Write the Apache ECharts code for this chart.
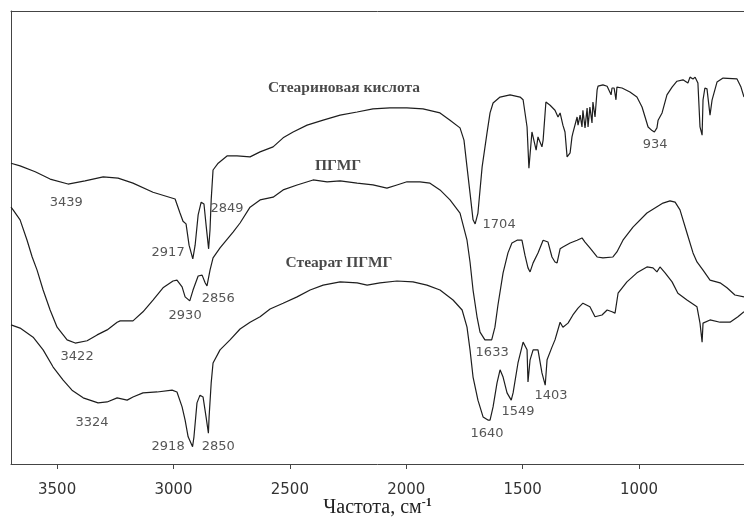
<!DOCTYPE html>
<html>
<head>
<meta charset="utf-8">
<script src="https://cdn.jsdelivr.net/npm/echarts@6/dist/echarts.min.js"></script>
<style>
  html, body { margin: 0; padding: 0; background: #fff; }
  #chart { width: 744px; height: 522px; }
</style>
</head>
<body>
<div id="chart"></div>
<script>
// wavenumber (cm-1), transmittance (arbitrary %, curves are offset)
const acidPoints = [
  [3698,66.4],[3659,65.8],[3594,64.5],[3530,62.9],[3453,61.8],[3380,62.5],[3302,63.4],[3238,63.1],
  [3174,62.0],[3088,60.0],[2993,58.5],[2972,55.4],[2959,53.6],[2946,53.0],[2933,48.3],[2917,45.3],
  [2907,48.3],[2894,55.0],[2881,57.8],[2869,57.4],[2860,52.8],[2849,47.5],[2843,51.7],[2838,58.3],
  [2830,64.9],[2808,66.4],[2770,68.0],[2727,68.0],[2671,67.8],[2628,68.9],[2572,70.0],[2529,72.0],
  [2486,73.3],[2426,74.8],[2357,75.9],[2284,77.0],[2211,77.7],[2143,78.4],[2070,78.6],[1997,78.6],
  [1928,78.4],[1855,77.5],[1812,75.9],[1769,74.2],[1752,71.5],[1739,65.6],[1726,59.8],[1713,53.9],
  [1704,53.0],[1692,55.4],[1674,65.6],[1653,73.1],[1640,77.5],[1627,79.7],[1597,81.0],[1554,81.5],
  [1511,81.0],[1498,80.4],[1481,74.4],[1473,65.3],[1460,73.3],[1455,73.1],[1442,69.3],[1434,72.2],
  [1417,70.0],[1412,71.5],[1400,79.9],[1382,79.2],[1361,78.1],[1348,76.6],[1339,77.5],[1327,74.8],
  [1318,73.3],[1309,67.8],[1305,67.5],[1296,68.7],[1288,72.2],[1284,73.1],[1266,76.6],[1262,74.8],
  [1253,77.0],[1245,74.4],[1241,78.1],[1232,74.2],[1223,78.6],[1219,74.4],[1211,78.8],[1202,75.3],
  [1198,79.9],[1189,76.6],[1180,82.6],[1176,83.4],[1155,83.7],[1137,83.4],[1129,83.0],[1120,81.5],
  [1116,83.0],[1107,83.0],[1099,80.4],[1095,83.2],[1073,83.0],[1039,82.1],[1009,81.0],[987,78.8],
  [974,76.6],[961,74.4],[944,73.6],[934,73.3],[923,74.2],[918,75.9],[901,77.5],[880,81.5],
  [858,83.2],[837,84.5],[811,84.8],[790,84.1],[781,85.4],[768,85.0],[759,85.4],[747,84.1],
  [738,74.4],[729,72.6],[725,80.4],[717,83.0],[708,82.8],[695,77.0],[686,80.4],[665,84.3],
  [639,85.2],[579,85.0],[562,83.2],[549,81.0]
];
const pgmgPoints = [
  [3698,56.7],[3689,56.1],[3659,53.9],[3629,49.4],[3607,45.7],[3586,42.8],[3560,38.4],[3530,34.0],
  [3500,30.2],[3457,27.4],[3422,26.7],[3371,27.2],[3328,28.5],[3285,29.6],[3242,31.3],[3229,31.6],
  [3174,31.6],[3131,33.6],[3088,36.2],[3045,38.9],[3002,40.4],[2985,40.6],[2963,39.1],[2950,36.9],
  [2930,36.0],[2916,38.4],[2894,41.5],[2877,41.7],[2864,40.0],[2856,39.3],[2843,42.8],[2830,45.5],
  [2800,47.7],[2744,51.2],[2714,53.2],[2671,56.7],[2628,58.3],[2572,58.9],[2529,60.5],[2469,61.6],
  [2400,62.7],[2340,62.3],[2284,62.5],[2211,62.0],[2143,61.6],[2083,60.9],[2040,61.6],[1997,62.3],
  [1941,62.3],[1898,62.0],[1855,60.5],[1812,58.3],[1769,55.4],[1739,49.4],[1726,44.6],[1713,38.4],
  [1696,32.5],[1683,29.1],[1662,27.4],[1633,27.4],[1619,30.2],[1606,35.1],[1584,42.2],[1563,46.6],
  [1546,48.8],[1524,49.4],[1503,49.4],[1490,46.1],[1477,43.3],[1468,42.4],[1455,44.4],[1434,46.6],
  [1412,49.4],[1391,49.0],[1374,45.7],[1361,44.6],[1352,44.4],[1339,47.5],[1327,47.9],[1296,48.8],
  [1266,49.4],[1245,49.9],[1232,49.0],[1211,47.7],[1180,45.7],[1155,45.5],[1112,45.7],[1095,46.8],
  [1069,49.4],[1026,52.3],[966,55.4],[897,57.6],[867,58.1],[845,57.8],[824,56.1],[794,51.0],
  [768,46.6],[751,44.6],[725,42.8],[695,40.6],[652,40.0],[622,38.9],[588,37.3],[549,36.9]
];
const stearatePoints = [
  [3698,30.7],[3659,30.0],[3603,28.0],[3560,25.2],[3517,21.4],[3474,18.5],[3436,16.3],[3388,14.6],
  [3324,13.5],[3285,13.7],[3242,14.6],[3199,14.1],[3174,14.8],[3131,15.7],[3070,15.9],[3006,16.3],
  [2985,15.9],[2963,12.6],[2950,9.7],[2937,6.0],[2918,3.8],[2912,6.0],[2899,13.5],[2886,15.2],
  [2873,14.8],[2860,10.4],[2850,6.8],[2847,10.4],[2838,17.9],[2830,22.3],[2800,25.2],[2757,27.4],
  [2714,29.8],[2671,31.3],[2628,32.5],[2585,34.2],[2529,35.5],[2469,36.9],[2413,38.4],[2357,39.5],
  [2284,40.2],[2211,40.0],[2168,39.5],[2113,40.0],[2040,40.4],[1971,40.2],[1911,39.5],[1855,38.4],
  [1799,36.2],[1760,34.0],[1739,30.2],[1726,25.2],[1713,19.2],[1692,14.1],[1670,10.4],[1649,9.7],
  [1640,9.7],[1627,12.6],[1610,17.9],[1597,20.8],[1584,19.2],[1567,15.7],[1549,14.1],[1541,15.7],
  [1520,22.3],[1498,26.9],[1481,25.2],[1477,18.1],[1468,23.0],[1455,25.2],[1434,25.2],[1417,20.1],
  [1403,17.4],[1395,23.0],[1374,25.8],[1361,27.4],[1339,31.3],[1327,30.2],[1305,31.1],[1284,32.9],
  [1262,34.4],[1241,35.5],[1211,34.7],[1189,32.5],[1159,32.9],[1137,34.0],[1116,33.6],[1103,33.3],
  [1090,37.7],[1052,40.2],[1009,42.2],[966,43.5],[940,43.3],[923,42.4],[910,43.5],[888,42.2],
  [858,40.2],[833,37.7],[794,36.2],[751,34.7],[738,31.1],[729,26.9],[725,31.1],[695,31.8],
  [652,31.3],[609,31.3],[575,32.5],[549,33.6]
];
const xTicks = [3500, 3000, 2500, 2000, 1500, 1000];
// peak annotations: [wavenumber, T, text]
const peakLabels = [
  [3461,57.6,'3439'],[3023,46.6,'2917'],[2770,56.3,'2849'],[1601,52.8,'1704'],[931,70.6,'934'],
  [3414,23.8,'3422'],[2950,32.7,'2930'],[2808,36.4,'2856'],[1631,24.5,'1633'],
  [3350,9.1,'3324'],[3023,3.8,'2918'],[2808,3.8,'2850'],[1653,6.8,'1640'],[1520,11.5,'1549'],[1378,15.2,'1403']
];
const curveNames = [
  [2267,83.0,'Стеариновая кислота'],[2293,65.8,'ПГМГ'],[2289,44.4,'Стеарат ПГМГ']
];

const lineColor = '#1e1e1e';
function curve(name, pts) {
  return {
    name: name, type: 'line', data: pts, showSymbol: false, smooth: false,
    lineStyle: { color: lineColor, width: 1.2 }, silent: true
  };
}
function textLayer(list, font) {
  return {
    type: 'scatter', symbolSize: 0, silent: true, z: 5,
    data: list.map(d => ({ value: [d[0], d[1]], name: d[2] })),
    label: Object.assign({ show: true, position: 'inside', formatter: p => p.name }, font)
  };
}

const chart = echarts.init(document.getElementById('chart'));
chart.setOption({
  animation: false,
  grid: { left: 11, right: 0, top: 11, bottom: 58, containLabel: false, outerBoundsMode: 'none' },
  xAxis: [{
    type: 'value', inverse: true, min: 549, max: 3698,
    axisLine: { lineStyle: { color: '#444', width: 1 } },
    axisTick: { show: true, length: 5, lineStyle: { color: '#444' }, customValues: xTicks },
    axisLabel: { color: '#333', fontFamily: 'DejaVu Sans', fontSize: 15, margin: 19,
      customValues: xTicks, formatter: v => String(v) },
    splitLine: { show: false },
    name: 'Частота, см{sup|-1}', nameLocation: 'middle', nameGap: 33, nameMoveOverlap: false,
    nameTextStyle: {
      fontFamily: 'Liberation Serif', fontSize: 20, color: '#222',
      rich: { sup: { fontFamily: 'Liberation Serif', fontSize: 12, fontWeight: 'bold', color: '#222', verticalAlign: 'top', padding: [0, 0, 10, 0] } }
    }
  }, {
    type: 'value', position: 'top', inverse: true, min: 549, max: 3698,
    axisLine: { show: true, lineStyle: { color: '#444', width: 1 } },
    axisTick: { show: false }, axisLabel: { show: false }, splitLine: { show: false }
  }],
  yAxis: {
    type: 'value', min: 0, max: 100,
    axisLine: { show: true, lineStyle: { color: '#444', width: 1 } },
    axisTick: { show: false }, axisLabel: { show: false }, splitLine: { show: false }
  },
  series: [
    curve('Стеариновая кислота', acidPoints),
    curve('ПГМГ', pgmgPoints),
    curve('Стеарат ПГМГ', stearatePoints),
    textLayer(peakLabels, { fontFamily: 'DejaVu Sans', fontSize: 13, color: '#2a2a2a' }),
    textLayer(curveNames, { fontFamily: 'Liberation Serif', fontSize: 15.5, fontWeight: 'bold', color: '#1a1a1a' })
  ]
});
</script>
</body>
</html>
